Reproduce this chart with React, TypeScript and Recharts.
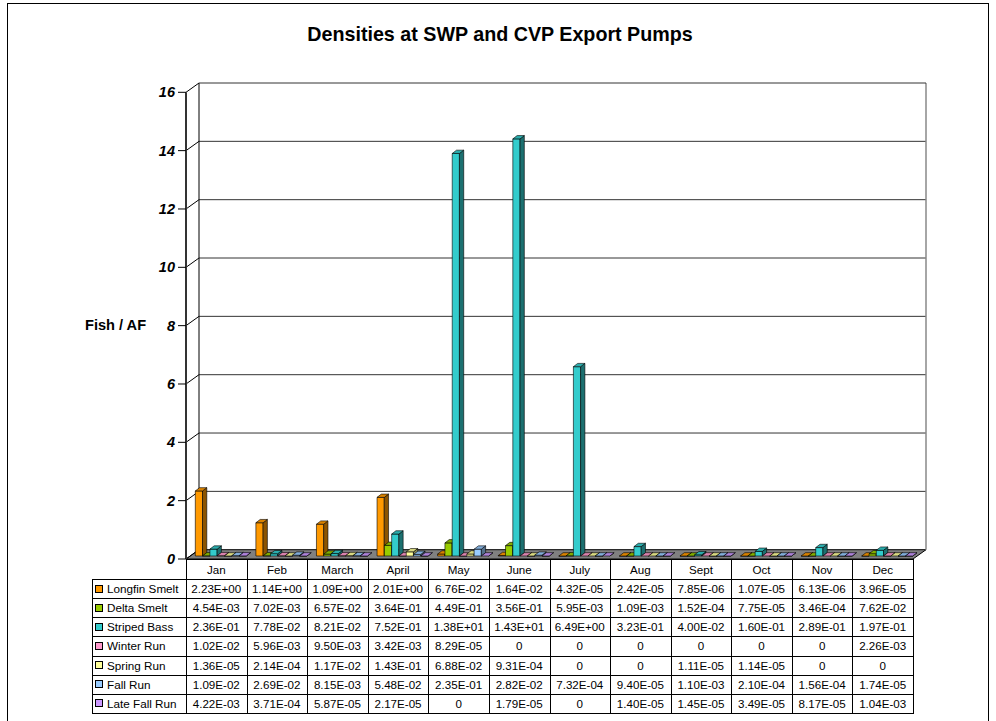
import React from 'react';
import { Bar, BarChart, CartesianGrid, XAxis, YAxis } from 'recharts';

const MONTHS = ['Jan', 'Feb', 'March', 'April', 'May', 'June', 'July', 'Aug', 'Sept', 'Oct', 'Nov', 'Dec'];

const longfinSmelt = [2.23, 1.14, 1.09, 2.01, 6.76e-2, 1.64e-2, 4.32e-5, 2.42e-5, 7.85e-6, 1.07e-5, 6.13e-6, 3.96e-5];
const deltaSmelt = [4.54e-3, 7.02e-3, 6.57e-2, 3.64e-1, 4.49e-1, 3.56e-1, 5.95e-3, 1.09e-3, 1.52e-4, 7.75e-5, 3.46e-4, 7.62e-2];
const stripedBass = [2.36e-1, 7.78e-2, 8.21e-2, 7.52e-1, 13.8, 14.3, 6.49, 3.23e-1, 4.0e-2, 1.6e-1, 2.89e-1, 1.97e-1];
const winterRun = [1.02e-2, 5.96e-3, 9.5e-3, 3.42e-3, 8.29e-5, 0, 0, 0, 0, 0, 0, 2.26e-3];
const springRun = [1.36e-5, 2.14e-4, 1.17e-2, 1.43e-1, 6.88e-2, 9.31e-4, 0, 0, 1.11e-5, 1.14e-5, 0, 0];
const fallRun = [1.09e-2, 2.69e-2, 8.15e-3, 5.48e-2, 2.35e-1, 2.82e-2, 7.32e-4, 9.4e-5, 1.1e-3, 2.1e-4, 1.56e-4, 1.74e-5];
const lateFallRun = [4.22e-3, 3.71e-4, 5.87e-5, 2.17e-5, 0, 1.79e-5, 0, 1.4e-5, 1.45e-5, 3.49e-5, 8.17e-5, 1.04e-3];

const Y_TICKS = [0, 2, 4, 6, 8, 10, 12, 14, 16];

const SERIES = [
  { key: 'longfin', name: 'Longfin Smelt', values: longfinSmelt, color: '#FF9900' },
  { key: 'delta', name: 'Delta Smelt', values: deltaSmelt, color: '#99CC00' },
  { key: 'striped', name: 'Striped Bass', values: stripedBass, color: '#33CCCC' },
  { key: 'winter', name: 'Winter Run', values: winterRun, color: '#FF99CC' },
  { key: 'spring', name: 'Spring Run', values: springRun, color: '#FFFF99' },
  { key: 'fall', name: 'Fall Run', values: fallRun, color: '#99CCFF' },
  { key: 'lateFall', name: 'Late Fall Run', values: lateFallRun, color: '#CC99FF' },
];

const data = MONTHS.map((month, i) => {
  const row: Record<string, string | number> = { month };
  SERIES.forEach((s) => {
    row[s.key] = s.values[i];
  });
  return row;
});

// layout (px)
const W = 996;
const H = 721;
const PLOT_LEFT = 186;
const PLOT_RIGHT = 913;
const PLOT_TOP = 92.3;
const PLOT_BOTTOM = 559;
const AXIS_W = 40;
const WALL_DX = 13;
const WALL_DY = -9.3;
// bars sit about a third of the way into the floor
const BAR_DX = 4.3;
const BAR_DY = -3;
const BAR_DEPTH_X = 4.3;
const BAR_DEPTH_Y = 3.3;

const COL_W = (PLOT_RIGHT - PLOT_LEFT) / MONTHS.length;
const TABLE_LEFT = 92;
const HEADER_TOP = 559;
const HEADER_BOTTOM = 579;
const ROW_H = 19.14;

const FONT = 'Arial, "Liberation Sans", sans-serif';

function shade(hex: string, f: number) {
  const n = parseInt(hex.slice(1), 16);
  const r = Math.round(((n >> 16) & 255) * f);
  const g = Math.round(((n >> 8) & 255) * f);
  const b = Math.round((n & 255) * f);
  return `rgb(${r},${g},${b})`;
}

function fmt(v: number) {
  if (v === 0) return '0';
  const [m, e] = v.toExponential(2).split('e');
  const sign = e[0] === '-' ? '-' : '+';
  const digits = e.replace(/[+-]/, '').padStart(2, '0');
  return `${m}E${sign}${digits}`;
}

function Bar3D(props: any) {
  const { x, y, width, height, fill } = props;
  if (x == null || y == null) return null;
  const X = x + BAR_DX;
  const Y = y + BAR_DY;
  const w = width;
  const h = Math.max(height || 0, 0);
  const dx = BAR_DEPTH_X;
  const dy = BAR_DEPTH_Y;
  const sw = 0.6;
  return (
    <g>
      {h > 0 && (
        <path
          d={`M${X},${Y} L${X + w},${Y} L${X + w},${Y + h} L${X},${Y + h} Z`}
          fill={fill}
          stroke="#000"
          strokeWidth={sw}
        />
      )}
      <path
        d={`M${X + w},${Y} L${X + w + dx},${Y - dy} L${X + w + dx},${Y + h - dy} L${X + w},${Y + h} Z`}
        fill={shade(fill, 0.55)}
        stroke="#000"
        strokeWidth={sw}
      />
      <path
        d={`M${X},${Y} L${X + dx},${Y - dy} L${X + w + dx},${Y - dy} L${X + w},${Y} Z`}
        fill={shade(fill, 0.85)}
        stroke="#000"
        strokeWidth={sw}
      />
    </g>
  );
}

function GridLine(props: any) {
  const { x1, y1, x2 } = props;
  const top = typeof props.y === 'number' ? props.y : PLOT_TOP;
  const bottom = top + (typeof props.height === 'number' ? props.height : PLOT_BOTTOM - PLOT_TOP);
  const isBottom = Math.abs(y1 - bottom) < 0.5;
  const isTop = Math.abs(y1 - top) < 0.5;
  return (
    <g>
      {isBottom && (
        <path
          d={`M${x1},${y1} L${x1 + WALL_DX},${y1 + WALL_DY} L${x2 + WALL_DX},${y1 + WALL_DY} L${x2},${y1} Z`}
          fill="#808080"
          stroke="#000"
          strokeWidth={1}
        />
      )}
      {isTop && (
        <>
          <line
            x1={x1 + WALL_DX}
            y1={top + WALL_DY}
            x2={x1 + WALL_DX}
            y2={bottom + WALL_DY}
            stroke="#000"
            strokeWidth={1}
          />
          <line
            x1={x2 + WALL_DX}
            y1={top + WALL_DY}
            x2={x2 + WALL_DX}
            y2={bottom + WALL_DY}
            stroke="#888"
            strokeWidth={1.5}
          />
        </>
      )}
      {!isBottom && (
        <line x1={x1 + WALL_DX} y1={y1 + WALL_DY} x2={x2 + WALL_DX} y2={y1 + WALL_DY} stroke="#333" strokeWidth={1} />
      )}
      <line x1={x1} y1={y1} x2={x1 + WALL_DX} y2={y1 + WALL_DY} stroke="#000" strokeWidth={1} />
    </g>
  );
}

function DataTable() {
  const rowsBottom = HEADER_BOTTOM + ROW_H * SERIES.length;
  const lines: React.ReactNode[] = [];
  lines.push(
    <div key="ht" style={{ position: 'absolute', left: PLOT_LEFT, top: HEADER_TOP, width: PLOT_RIGHT - PLOT_LEFT + 1, height: 1, background: '#000' }} />
  );
  for (let r = 0; r <= SERIES.length; r++) {
    const y = HEADER_BOTTOM + r * ROW_H;
    lines.push(
      <div key={`h${r}`} style={{ position: 'absolute', left: TABLE_LEFT, top: Math.round(y), width: PLOT_RIGHT - TABLE_LEFT + 1, height: 1, background: '#000' }} />
    );
  }
  lines.push(
    <div key="vl" style={{ position: 'absolute', left: TABLE_LEFT, top: HEADER_BOTTOM, width: 1, height: rowsBottom - HEADER_BOTTOM, background: '#000' }} />
  );
  for (let c = 0; c <= MONTHS.length; c++) {
    const x = PLOT_LEFT + c * COL_W;
    lines.push(
      <div key={`v${c}`} style={{ position: 'absolute', left: Math.round(x), top: HEADER_TOP, width: 1, height: rowsBottom - HEADER_TOP, background: '#000' }} />
    );
  }
  const cellStyle = (left: number, top: number, width: number, height: number): React.CSSProperties => ({
    position: 'absolute',
    left,
    top,
    width,
    height,
    display: 'flex',
    alignItems: 'center',
    justifyContent: 'center',
    fontFamily: FONT,
    fontSize: 11.6,
    color: '#000',
    whiteSpace: 'nowrap',
  });
  return (
    <>
      {lines}
      {MONTHS.map((m, c) => (
        <div key={m} style={cellStyle(PLOT_LEFT + c * COL_W, HEADER_TOP, COL_W, HEADER_BOTTOM - HEADER_TOP)}>
          {m}
        </div>
      ))}
      {SERIES.map((s, r) => (
        <React.Fragment key={s.key}>
          <div
            style={{
              position: 'absolute',
              left: TABLE_LEFT + 3,
              top: HEADER_BOTTOM + r * ROW_H,
              height: ROW_H,
              display: 'flex',
              alignItems: 'center',
              fontFamily: FONT,
              fontSize: 11.7,
              whiteSpace: 'nowrap',
            }}
          >
            <span style={{ display: 'inline-block', width: 6, height: 6, background: s.color, border: '1px solid #000', marginRight: 4 }} />
            {s.name}
          </div>
          {s.values.map((v, c) => (
            <div key={c} style={cellStyle(PLOT_LEFT + c * COL_W, HEADER_BOTTOM + r * ROW_H, COL_W, ROW_H)}>
              {fmt(v)}
            </div>
          ))}
        </React.Fragment>
      ))}
    </>
  );
}

export default function App() {
  return (
    <div style={{ position: 'absolute', left: 0, top: 0, width: W, height: H, background: '#fff', overflow: 'hidden' }}>
      <div style={{ position: 'absolute', left: 7, top: 3, width: 982, height: 760, border: '1px solid #000', boxSizing: 'border-box' }} />
      <div
        style={{
          position: 'absolute',
          left: 0,
          top: 22,
          width: 1000,
          textAlign: 'center',
          fontFamily: FONT,
          fontWeight: 'bold',
          fontSize: 19.7,
          lineHeight: '24px',
        }}
      >
        Densities at SWP and CVP Export Pumps
      </div>
      <div
        style={{
          position: 'absolute',
          left: 85,
          top: 316,
          fontFamily: FONT,
          fontWeight: 'bold',
          fontSize: 14.6,
          lineHeight: '18px',
          whiteSpace: 'nowrap',
        }}
      >
        Fish / AF
      </div>
      <div style={{ position: 'absolute', left: 0, top: 0 }}>
        <BarChart
          width={W}
          height={H}
          data={data}
          barSize={7.2}
          barGap={0.1}
          margin={{ top: PLOT_TOP, right: W - PLOT_RIGHT, bottom: H - PLOT_BOTTOM, left: PLOT_LEFT - AXIS_W }}
        >
          <CartesianGrid vertical={false} horizontal={(p: any) => <GridLine key={p.key} {...p} />} />
          <XAxis dataKey="month" hide />
          <YAxis
            width={AXIS_W}
            domain={[0, 16]}
            ticks={Y_TICKS}
            interval={0}
            tickSize={8}
            tickMargin={3}
            axisLine={{ stroke: '#333', strokeWidth: 2 }}
            tickLine={{ stroke: '#000' }}
            tick={{ fill: '#000', fontSize: 14.5, fontWeight: 'bold', fontStyle: 'italic', fontFamily: FONT }}
          />
          {SERIES.map((s) => (
            <Bar
              key={s.key}
              dataKey={s.key}
              name={s.name}
              fill={s.color}
              isAnimationActive={false}
              shape={(p: any) => <Bar3D {...p} />}
            />
          ))}
        </BarChart>
      </div>
      <DataTable />
    </div>
  );
}
